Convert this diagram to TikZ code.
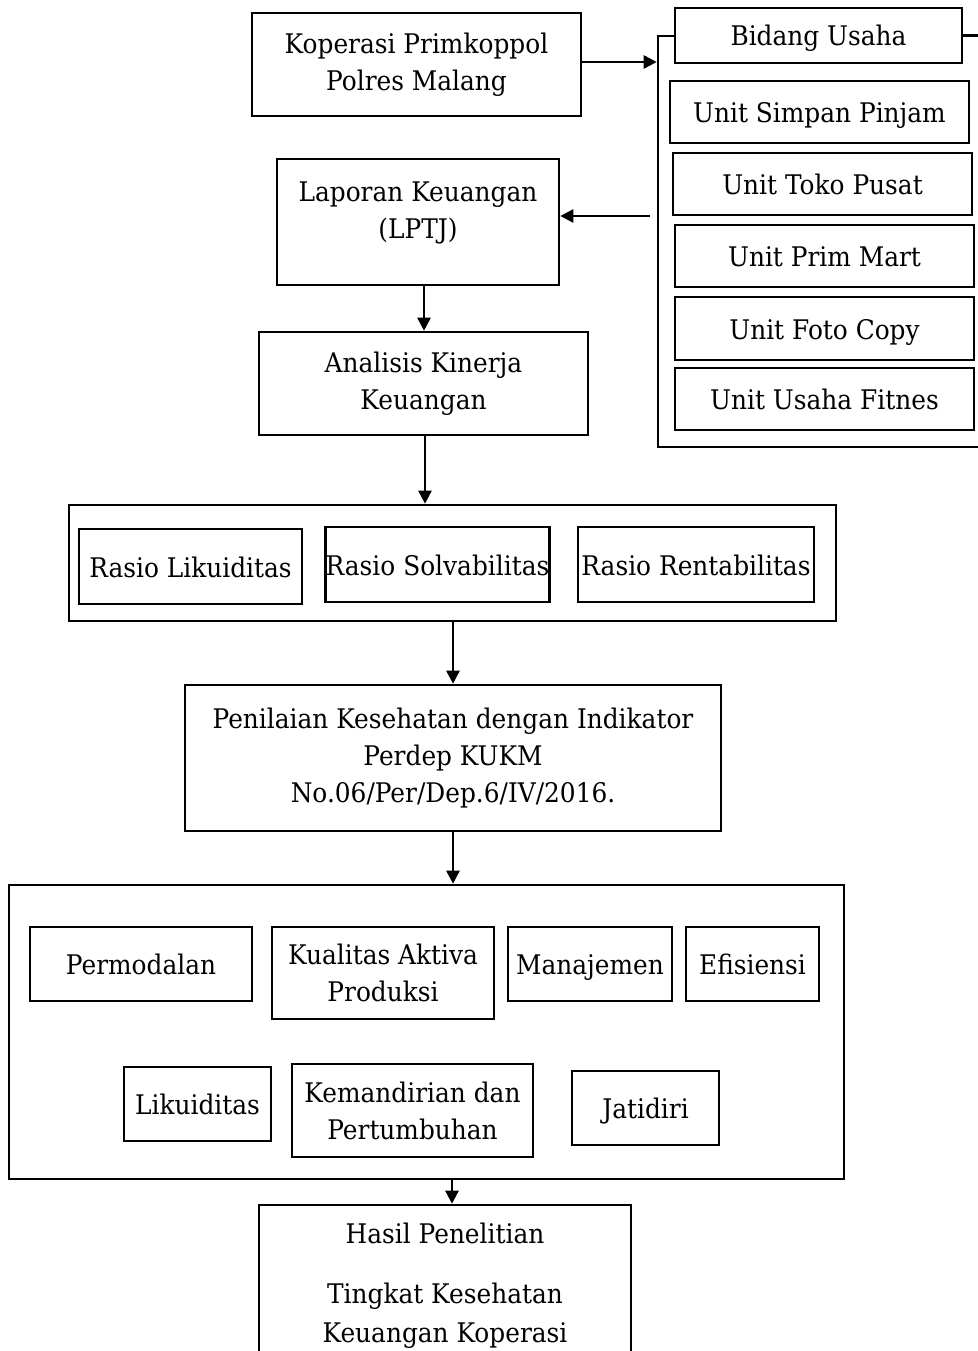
\documentclass[tikz,border=0pt]{standalone}
\usepackage{fontspec}
\setmainfont{DejaVu Serif}[FakeStretch=0.92]
\usetikzlibrary{arrows.meta,calc}
\newcommand\bxn[7][]{\node[bx,minimum width={#5-#3},minimum height={#6-#4},#1] (#2) at ({(#3+#5)/2},{(#4+#6)/2}) {#7};}
\begin{document}
\begin{tikzpicture}[x=1pt,y=-1pt,
  fnt/.style={font=\fontsize{27}{37}\selectfont},
  bx/.style={draw,line width=2.6pt,inner sep=0pt,align=center,fill=white,fnt},
  one/.style={text height=21pt,text depth=0pt},
  txt/.style={inner sep=0pt,align=center,fnt},
  arr/.style={line width=2.6pt,-{Triangle[length=13pt,width=13pt]}},
  ln/.style={line width=2.6pt}]
\useasboundingbox[fill=white] (0,0) rectangle (977,1351);
% top group
\bxn{kop}{252}{13}{581}{116}{Koperasi Primkoppol\\Polres Malang}
\node[draw,line width=2.6pt,minimum width=340,minimum height=411,inner sep=0pt] (grp) at (828,241.5) {};
\bxn[one]{bid}{675}{8}{962}{63}{Bidang Usaha}
\bxn[one]{usp}{670}{81}{969}{143}{Unit Simpan Pinjam}
\bxn[one]{utp}{673}{153}{972}{215}{Unit Toko Pusat}
\bxn[one]{upm}{675}{225}{974}{287}{Unit Prim Mart}
\bxn[one]{ufc}{675}{297}{974}{360}{Unit Foto Copy}
\bxn[one]{uuf}{675}{368}{974}{430}{Unit Usaha Fitnes}
\bxn{lap}{277}{159}{559}{285}{}
\node[txt,anchor=north] (laptx) at (418,181.5) {Laporan Keuangan\\(LPTJ)};
\bxn{ana}{259}{332}{588}{435}{Analisis Kinerja\\Keuangan}
% rasio
\bxn{ras}{69}{505}{836}{621}{}
\bxn[one]{rl}{79}{529}{302}{604}{Rasio Likuiditas}
\bxn[one]{rs}{326}{527}{549}{602}{Rasio Solvabilitas}
\bxn[one]{rr}{578}{527}{814}{602}{Rasio Rentabilitas}
\bxn{pen}{185}{685}{721}{831}{Penilaian Kesehatan dengan Indikator\\Perdep KUKM\\No.06/Per/Dep.6/IV/2016.}
% aspects
\bxn{asp}{9}{885}{844}{1179}{}
\bxn[one]{perm}{30}{927}{252}{1001}{Permodalan}
\bxn{kual}{272}{927}{494}{1019}{Kualitas Aktiva\\Produksi}
\bxn[one]{man}{508}{927}{672}{1001}{Manajemen}
\bxn[one]{efi}{686}{927}{819}{1001}{Efisiensi}
\bxn[one]{likd}{124}{1067}{271}{1141}{Likuiditas}
\bxn{kem}{292}{1064}{533}{1157}{Kemandirian dan\\Pertumbuhan}
\bxn[one]{jat}{572}{1071}{719}{1145}{Jatidiri}
\bxn{has}{259}{1205}{631}{1380}{}
\node[txt,anchor=north,font=\fontsize{27}{39}\selectfont] (hastx) at (445,1222.5) {Hasil Penelitian\\[21pt]Tingkat Kesehatan\\Keuangan Koperasi};
% connectors
\draw[ln] (bid.east) -- (grp.east |- bid.east);
\draw[arr] (kop.east |- 0,62) -- (grp.west |- 0,62);
\draw[arr] ($(grp.west |- 0,216)+(-7,0)$) -- (lap.east |- 0,216);
\draw[arr] (lap.south -| 424,0) -- (ana.north -| 424,0);
\draw[arr] (ana.south -| 425,0) -- (ras.north -| 425,0);
\draw[arr] (ras.south -| pen.north) -- (pen.north);
\draw[arr] (pen.south) -- (asp.north -| pen.south);
\draw[arr] (asp.south -| 452,0) -- (has.north -| 452,0);
\end{tikzpicture}
\end{document}
